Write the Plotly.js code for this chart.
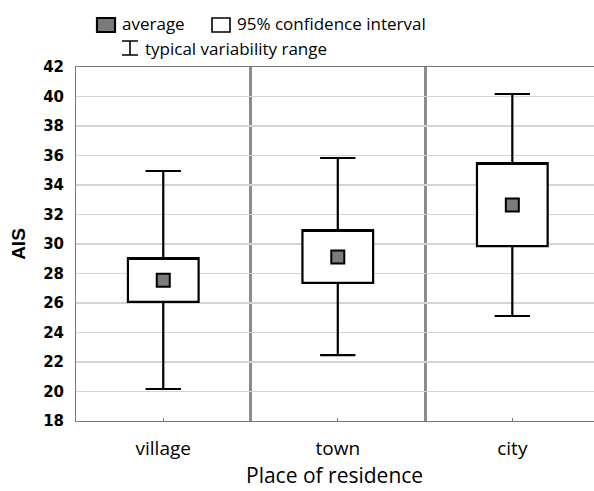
<!DOCTYPE html>
<html>
<head>
<meta charset="utf-8">
<script src="https://cdn.plot.ly/plotly-3.0.1.min.js"></script>
<style>html,body{margin:0;padding:0;background:#fff;}#chart{width:594px;height:491px;}</style>
</head>
<body>
<div id="chart"></div>
<script>
// ---- data ----
const categories = ["village", "town", "city"];
const averages = [27.55, 29.12, 32.64];
const ciLow = [26.07, 27.36, 29.86];
const ciHigh = [29.05, 30.95, 35.49];
const rangeLow = [20.17, 22.47, 25.12];
const rangeHigh = [34.95, 35.83, 40.17];
const yTicks = [18, 20, 22, 24, 26, 28, 30, 32, 34, 36, 38, 40, 42];

const xIdx = categories.map((c, i) => i);

// plot area geometry in pixels (for legend / title placement in paper coords)
const L = 76, T = 67, W = 518, H = 354;
const px = x => (x - L) / W;
const py = y => (T + H - y) / H;

const boxTrace = {
  type: 'box',
  x: xIdx,
  q1: ciLow,
  median: ciHigh,
  q3: ciHigh,
  lowerfence: rangeLow,
  upperfence: rangeHigh,
  boxpoints: false,
  width: 0.405,
  whiskerwidth: 0.5,
  fillcolor: '#ffffff',
  line: {color: '#000000', width: 2.2},
  hoverinfo: 'skip',
  showlegend: false
};

const meanTrace = {
  type: 'scatter',
  mode: 'markers',
  x: xIdx,
  y: averages,
  marker: {symbol: 'square', size: 13, color: '#7b7b7b', line: {color: '#000000', width: 2}},
  hoverinfo: 'skip',
  showlegend: false
};

const sans = 'Open Sans, Noto Sans, sans-serif';
const legendFont = {family: sans, size: 17, color: '#000'};

const layout = {
  width: 594,
  height: 491,
  margin: {l: L, r: 594 - L - W, t: T, b: 491 - T - H},
  paper_bgcolor: '#ffffff',
  plot_bgcolor: '#ffffff',
  showlegend: false,
  xaxis: {
    type: 'linear',
    automargin: false,
    range: [-0.5, 2.468],
    tickmode: 'array',
    tickvals: xIdx,
    ticktext: categories,
    tickfont: {family: sans, size: 19, color: '#000'},
    ticks: 'inside',
    ticklen: 3,
    tickcolor: '#777',
    ticklabelstandoff: 10,
    showgrid: false,
    zeroline: false,
    showline: true,
    linecolor: '#777',
    linewidth: 1,
    mirror: true,
    minor: {tick0: 0.5, dtick: 1, showgrid: true, gridcolor: '#8c8c8c', gridwidth: 3, ticks: ''}
  },
  yaxis: {
    automargin: false,
    range: [18, 42],
    tickmode: 'array',
    tickvals: yTicks,
    ticktext: yTicks.map(String),
    tickfont: {family: 'DejaVu Sans, sans-serif', size: 15, color: '#000', weight: 'bold'},
    ticks: '',
    ticklabelstandoff: 8,
    showgrid: true,
    gridcolor: '#d4d4d4',
    gridwidth: 1.6,
    zeroline: false,
    showline: true,
    linecolor: '#777',
    linewidth: 1,
    title: {text: 'AIS', font: {family: 'Liberation Sans, Arial, sans-serif', size: 19, color: '#000', weight: 'bold'}, standoff: 12}
  },
  shapes: [
    // legend icons
    {type: 'rect', xref: 'paper', yref: 'paper', x0: px(97), x1: px(115), y0: py(32), y1: py(18),
     fillcolor: '#7b7b7b', line: {color: '#000', width: 2.2}},
    {type: 'rect', xref: 'paper', yref: 'paper', x0: px(212), x1: px(230), y0: py(32), y1: py(18),
     fillcolor: '#ffffff', line: {color: '#000', width: 1.6}},
    {type: 'path', xref: 'paper', yref: 'paper',
     path: `M${px(122)},${py(41)} L${px(138)},${py(41)} M${px(130)},${py(41)} L${px(130)},${py(55)} M${px(122)},${py(55)} L${px(138)},${py(55)}`,
     line: {color: '#000', width: 1.6}}
  ],
  annotations: [
    {xref: 'paper', yref: 'paper', x: px(120), y: py(24), xanchor: 'left', yanchor: 'middle', text: 'average', showarrow: false, font: legendFont},
    {xref: 'paper', yref: 'paper', x: px(235), y: py(24), xanchor: 'left', yanchor: 'middle', text: '95% confidence interval', showarrow: false, font: legendFont},
    {xref: 'paper', yref: 'paper', x: px(143), y: py(48), xanchor: 'left', yanchor: 'middle', text: 'typical variability range', showarrow: false, font: legendFont},
    // x-axis title
    {xref: 'paper', yref: 'paper', x: px(334), y: py(490), xanchor: 'center', yanchor: 'bottom', text: 'Place of residence', showarrow: false,
     borderpad: 0, font: {family: sans, size: 21, color: '#000'}}
  ]
};

Plotly.newPlot('chart', [boxTrace, meanTrace], layout, {displayModeBar: false, staticPlot: true});
</script>
</body>
</html>
